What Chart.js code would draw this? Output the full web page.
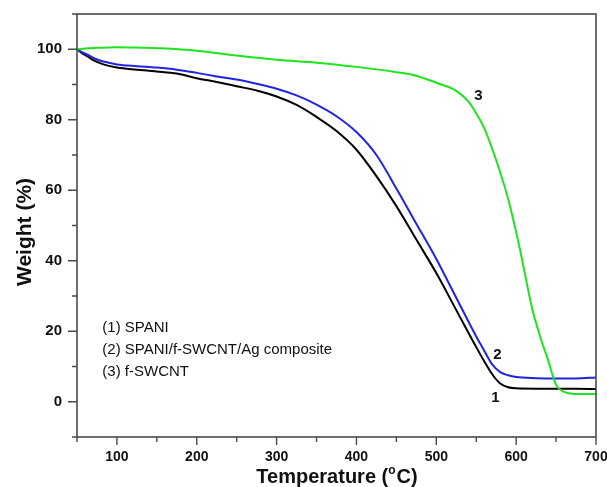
<!DOCTYPE html>
<html>
<head>
<meta charset="utf-8">
<script src="https://cdn.jsdelivr.net/npm/chart.js@4.4.0/dist/chart.umd.min.js"></script>
<style>
body{margin:0;background:#fff;}
#box{width:607px;height:487px;}
</style>
</head>
<body>
<div id="box"><canvas id="tga"></canvas></div>
<script>
// temperatures (C) for curve 1 and 2
var tempA = [50,55,60,67,75,83,100,125,150,175,200,225,250,275,300,325,350,375,400,425,450,475,500,525,550,560,570,580,590,600,625,650,675,700];
// (1) SPANI
var spani = [100,99.1,98.4,97.4,96.4,95.7,94.8,94.2,93.7,93.1,91.8,90.7,89.5,88.3,86.6,84.2,80.8,76.8,71.5,64,55.5,46,36.5,26,15.5,11.5,7.8,5.2,4.1,3.8,3.7,3.7,3.7,3.6];
// (2) SPANI/f-SWCNT/Ag composite
var composite = [100,99.3,98.8,98,97.1,96.5,95.7,95.2,94.8,94.2,93.3,92.3,91.4,90.2,88.8,86.9,84.3,81,76.5,70,60.5,50.5,40.5,29.5,18.5,14.5,10.6,8.4,7.5,7,6.7,6.6,6.6,6.9];
// (3) f-SWCNT, own temperature list
var tempB = [50,75,100,125,150,200,250,300,350,400,450,475,500,525,540,550,560,575,590,605,620,630,640,650,660,670,700];
var swcnt = [100,100.4,100.6,100.5,100.3,99.6,98.2,97,96.2,95,93.5,92.5,90.5,88.2,85.2,81.8,77.6,68.5,57.5,43,26.5,18.5,11.8,4.8,2.8,2.3,2.2];

var xTickLabels = [100,200,300,400,500,600,700];
var yTickLabels = [0,20,40,60,80,100];
var legendLines = ["(1) SPANI","(2) SPANI/f-SWCNT/Ag composite","(3) f-SWCNT"];
var curveTags = ["1","2","3"];
var yTitle = "Weight (%)";

var font = "'Liberation Sans', Arial, sans-serif";

function pairs(xs, ys){
    var out = [];
    for(var i=0;i<xs.length;i++){
        out.push({x: xs[i], y: ys[i]});
    }
    return out;
}

// frame, tick marks, titles and the text inside the plot
var extras = {
    id: 'extras',
    afterDraw: function(chart){
        var ctx = chart.ctx;
        var a = chart.chartArea;
        var xs = chart.scales.x;
        var ys = chart.scales.y;
        ctx.save();
        ctx.strokeStyle = '#4a4a4a';
        ctx.lineWidth = 1.6;
        ctx.strokeRect(a.left, a.top, a.right - a.left, a.bottom - a.top);

        ctx.lineWidth = 1.4;
        ctx.beginPath();
        xs.ticks.forEach(function(t){
            var px = xs.getPixelForValue(t.value);
            var len = xTickLabels.indexOf(t.value) >= 0 ? 8 : 5;
            ctx.moveTo(px, a.bottom);
            ctx.lineTo(px, a.bottom + len);
        });
        ys.ticks.forEach(function(t){
            var py = ys.getPixelForValue(t.value);
            var len = yTickLabels.indexOf(t.value) >= 0 ? 9 : 5;
            ctx.moveTo(a.left, py);
            ctx.lineTo(a.left - len, py);
        });
        ctx.stroke();

        ctx.fillStyle = '#111';
        // y title
        ctx.save();
        ctx.translate(25, 232);
        ctx.rotate(-Math.PI/2);
        ctx.font = 'bold 21px ' + font;
        ctx.textAlign = 'center';
        ctx.textBaseline = 'middle';
        ctx.fillText(yTitle, 0, 0);
        ctx.restore();

        // x title with superscript o
        var p1 = "Temperature (", p2 = "o", p3 = "C)";
        ctx.textBaseline = 'alphabetic';
        ctx.textAlign = 'left';
        ctx.font = 'bold 20px ' + font;
        var w1 = ctx.measureText(p1).width;
        var w3 = ctx.measureText(p3).width;
        ctx.font = 'bold 12px ' + font;
        var w2 = ctx.measureText(p2).width;
        var cx = (a.left + a.right) / 2;
        var x0 = cx - (w1 + w2 + w3) / 2;
        var base = 483;
        ctx.font = 'bold 20px ' + font;
        ctx.fillText(p1, x0, base);
        ctx.font = 'bold 12px ' + font;
        ctx.fillText(p2, x0 + w1, base - 9);
        ctx.font = 'bold 20px ' + font;
        ctx.fillText(p3, x0 + w1 + w2 + 1, base);

        // legend text
        ctx.font = '15px ' + font;
        ctx.textBaseline = 'middle';
        var legY = [21.1, 14.8, 8.5];
        for(var i=0;i<legendLines.length;i++){
            ctx.fillText(legendLines[i], xs.getPixelForValue(81.7), ys.getPixelForValue(legY[i]));
        }

        // numbers next to the curves
        ctx.font = 'bold 15px ' + font;
        ctx.textAlign = 'center';
        var tagX = [573.9, 576.4, 552.6];
        var tagY = [1.1, 13.3, 86.9];
        for(var j=0;j<curveTags.length;j++){
            ctx.fillText(curveTags[j], xs.getPixelForValue(tagX[j]), ys.getPixelForValue(tagY[j]));
        }
        ctx.restore();
    }
};

var ctxEl = document.getElementById('tga');
var tgaChart = new Chart(ctxEl, {
    type: 'line',
    data: {
        datasets: [{
            label: legendLines[2],
            data: pairs(tempB, swcnt),
            borderColor: '#1ee31e',
            borderWidth: 2,
            pointRadius: 0,
            cubicInterpolationMode: 'monotone'
        },{
            label: legendLines[1],
            data: pairs(tempA, composite),
            borderColor: '#2222e2',
            borderWidth: 2,
            pointRadius: 0,
            cubicInterpolationMode: 'monotone'
        },{
            label: legendLines[0],
            data: pairs(tempA, spani),
            borderColor: '#000000',
            borderWidth: 2,
            pointRadius: 0,
            cubicInterpolationMode: 'monotone'
        }]
    },
    options: {
        responsive: true,
        maintainAspectRatio: false,
        animation: false,
        layout: { padding: { top: 14, right: 11, left: 0, bottom: 0 } },
        plugins: {
            legend: { display: false },
            tooltip: { enabled: false }
        },
        scales: {
            x: {
                type: 'linear',
                min: 50,
                max: 700,
                grid: { display: false, drawTicks: false },
                border: { display: false },
                ticks: {
                    stepSize: 50,
                    autoSkip: false,
                    maxRotation: 0,
                    padding: 12,
                    color: '#111',
                    font: { family: font, size: 14, weight: 'bold' },
                    callback: function(v){ return xTickLabels.indexOf(v) >= 0 ? v : ''; }
                },
                afterFit: function(s){ s.height = 50; s.paddingLeft = 0; s.paddingRight = 0; }
            },
            y: {
                min: -10,
                max: 110,
                grid: { display: false, drawTicks: false },
                border: { display: false },
                ticks: {
                    stepSize: 10,
                    autoSkip: false,
                    padding: 15,
                    color: '#111',
                    font: { family: font, size: 15, weight: 'bold' },
                    callback: function(v){ return yTickLabels.indexOf(v) >= 0 ? v : ''; }
                },
                afterFit: function(s){ s.width = 77; s.paddingTop = 0; s.paddingBottom = 0; }
            }
        }
    },
    plugins: [extras]
});
</script>
</body>
</html>
